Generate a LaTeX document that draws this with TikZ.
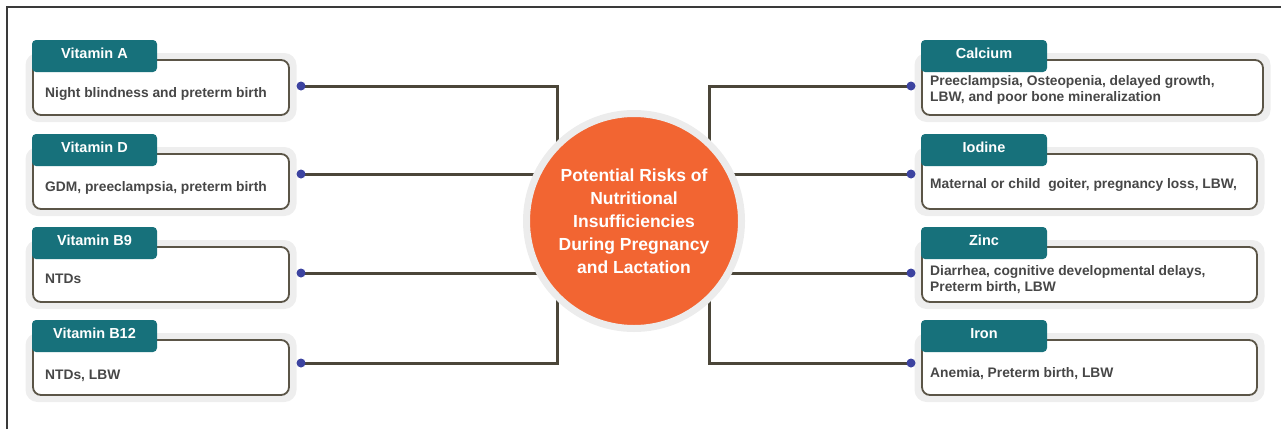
\documentclass[tikz,border=0pt]{standalone}
\usepackage{fontspec}
\setmainfont{Liberation Sans}
\usetikzlibrary{backgrounds}

\definecolor{tabteal}{HTML}{17717B}
\definecolor{cardline}{HTML}{5B5547}
\definecolor{halogrey}{HTML}{EEEEEE}
\definecolor{bodygrey}{HTML}{474747}
\definecolor{wirebrown}{HTML}{4B4639}
\definecolor{dotblue}{HTML}{3C43A0}
\definecolor{hubfill}{HTML}{F26532}
\definecolor{ringgrey}{HTML}{ECECEC}
\definecolor{framegrey}{HTML}{3A3A3A}

% #1 name, #2 left x, #3 right x, #4 top y, #5 tab right x,
% #6 title, #7 body left x, #8 body top y, #9 body text
\newcommand\mcard[9]{%
  \node[halo, minimum width={#3-#2+15}, minimum height=69pt]
    (#1h) at ({(#2+#3)/2},{#4+27.5}) {};
  \node[card, minimum width={#3-#2}, minimum height=55pt]
    (#1) at ({(#2+#3)/2},{#4+27.5}) {};
  \node[tabbox, minimum width={#5-#2+1}, minimum height=32pt]
    (#1t) at ({(#2+#5-1)/2},{#4-4}) {};
  \node[title, anchor=base] (#1l) at ({(#2+#5-1)/2},{#4-1.5}) {#6};
  \node[body, anchor=north west] (#1b) at (#7,#8) {#9};
}

\begin{document}
\begin{tikzpicture}[x=1pt,y=-1pt,
  halo/.style={fill=halogrey, rounded corners=12pt, inner sep=0pt, outer sep=0pt},
  card/.style={draw=cardline, line width=1.8pt, fill=white, rounded corners=8pt,
    inner sep=0pt, outer sep=0pt},
  tabbox/.style={fill=tabteal, rounded corners=4pt, inner sep=0pt, outer sep=0pt},
  title/.style={text=white, font=\fontsize{14.5}{17}\selectfont\bfseries, inner sep=0pt},
  body/.style={text=bodygrey, font=\fontsize{13.8}{16}\selectfont\bfseries,
    inner sep=0pt, align=left},
  dot/.style={circle, fill=dotblue, minimum size=9pt, inner sep=0pt},
  wire/.style={draw=wirebrown, line width=3pt},
  hub/.style={circle, fill=hubfill, draw=ringgrey, line width=7pt,
    minimum size=215pt, inner sep=0pt, text=white, align=center,
    font=\fontsize{17.5}{23}\selectfont\bfseries},
  framing/.style={draw=framegrey, line width=1.5pt}]

\useasboundingbox (0,0) rectangle (1281,429);

% outer frame (top and left edges)
\coordinate (fb) at (7,429);
\coordinate (fc) at (7,7);
\coordinate (fr) at (1281,7);
\draw[framing] (fb) -- (fc) -- (fr);

% central topic
\node[hub] (c) at (634,221) {Potential Risks of\\Nutritional\\Insufficiencies\\During Pregnancy\\and Lactation};

% vitamins (left)
\mcard{vA}{33}{289}{60}{157}{Vitamin A}{45}{87}{Night blindness and preterm birth}
\mcard{vD}{33}{289}{154}{157}{Vitamin D}{45}{181}{GDM, preeclampsia, preterm birth}
\mcard{vB}{33}{289}{247}{157}{Vitamin B9}{45}{274}{NTDs}
\mcard{vT}{33}{289}{340}{157}{Vitamin B12}{45}{370}{NTDs, LBW}

% minerals (right)
\mcard{mC}{922}{1263}{60}{1047}{Calcium}{930}{75}{Preeclampsia, Osteopenia, delayed growth,\\LBW, and poor bone mineralization}
\mcard{mI}{922}{1257}{154}{1047}{Iodine}{930}{178}{Maternal or child\ \ goiter, pregnancy loss, LBW,}
\mcard{mZ}{922}{1257}{247}{1047}{Zinc}{930}{265}{Diarrhea, cognitive developmental delays,\\Preterm birth, LBW}
\mcard{mF}{922}{1257}{340}{1047}{Iron}{930}{367}{Anemia, Preterm birth, LBW}

% connector end dots
\node[dot] (dA) at (301,86) {};
\node[dot] (dD) at (301,174) {};
\node[dot] (dB) at (301,273) {};
\node[dot] (dT) at (301,363) {};
\node[dot] (dC) at (911,86) {};
\node[dot] (dI) at (911,174) {};
\node[dot] (dZ) at (911,273) {};
\node[dot] (dF) at (911,363) {};

% connectors, behind the hub
\coordinate (jl) at (557,221);
\coordinate (jr) at (709,221);
\begin{scope}[on background layer]
  \draw[wire] (dA.center) -| (jl);
  \draw[wire] (dD.center) -- (dD -| c.center);
  \draw[wire] (dB.center) -- (dB -| c.center);
  \draw[wire] (dT.center) -| (jl);
  \draw[wire] (dC.center) -| (jr);
  \draw[wire] (dI.center) -- (dI -| c.center);
  \draw[wire] (dZ.center) -- (dZ -| c.center);
  \draw[wire] (dF.center) -| (jr);
\end{scope}
\end{tikzpicture}
\end{document}
